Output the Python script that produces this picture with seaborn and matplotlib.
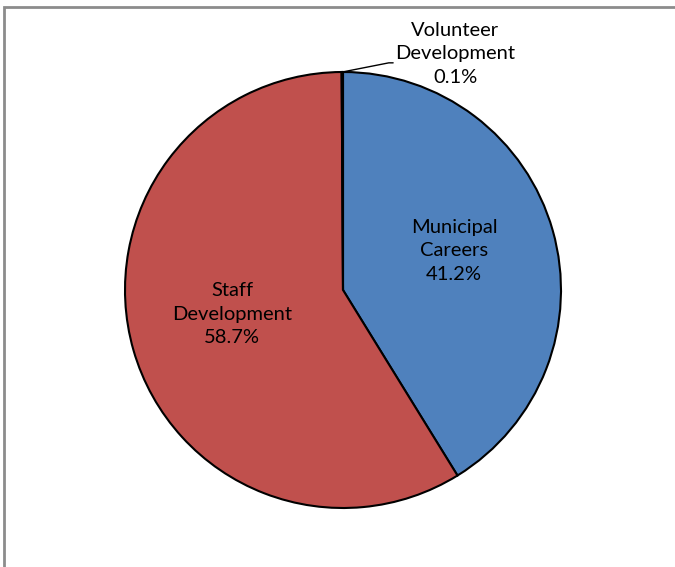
import numpy as np
import matplotlib
matplotlib.use("Agg")
import matplotlib.pyplot as plt
import seaborn as sns
from matplotlib.patches import Rectangle

# Data
labels = ["Municipal\nCareers", "Staff\nDevelopment", "Volunteer\nDevelopment"]
shares = [41.2, 58.7, 0.1]
colors = ["#4F81BD", "#C0504D", "#9BBB59"]

sns.set_theme(style="white")
plt.rcParams['font.family'] = ['Lato', 'DejaVu Sans']

fig = plt.figure(figsize=(6.75, 5.67), dpi=100)
W, H = 675, 567
cx, cy, r = 343, 290, 218
ax = fig.add_axes([(cx - r) / W, (H - cy - r) / H, 2 * r / W, 2 * r / H])

wedges, _ = ax.pie(shares, colors=colors, startangle=90, counterclock=False,
                   radius=1.0, wedgeprops=dict(edgecolor="black", linewidth=1.5))
ax.set_xlim(-1, 1)
ax.set_ylim(-1, 1)
ax.set_aspect("equal")
ax.axis("off")

# inside labels
for w, lab, val in zip(wedges[:2], labels[:2], shares[:2]):
    ang = np.deg2rad((w.theta1 + w.theta2) / 2)
    d = 0.53
    ax.text(d * np.cos(ang), d * np.sin(ang) + 0.035, f"{lab}\n{val}%",
            ha="center", va="center", fontsize=14.5, linespacing=1.48, color="black")

# small slice with leader line
w = wedges[2]
ang = np.deg2rad((w.theta1 + w.theta2) / 2)
x0, y0 = np.cos(ang), np.sin(ang)
ax.plot([x0, 0.21, 0.23], [y0, 1.042, 1.042], color="black", lw=1, clip_on=False)
ax.text(0.514, 1.083, f"{labels[2]}\n{shares[2]}%", ha="center", va="center",
        fontsize=14.5, linespacing=1.48, color="black", clip_on=False)

# chart frame
fig.add_artist(Rectangle((4 / W, -0.1), 1.2, 1.1 - 7 / H, transform=fig.transFigure,
                         fill=False, edgecolor="#8c8c8c", linewidth=2))

fig.savefig("out.png", dpi=100)
